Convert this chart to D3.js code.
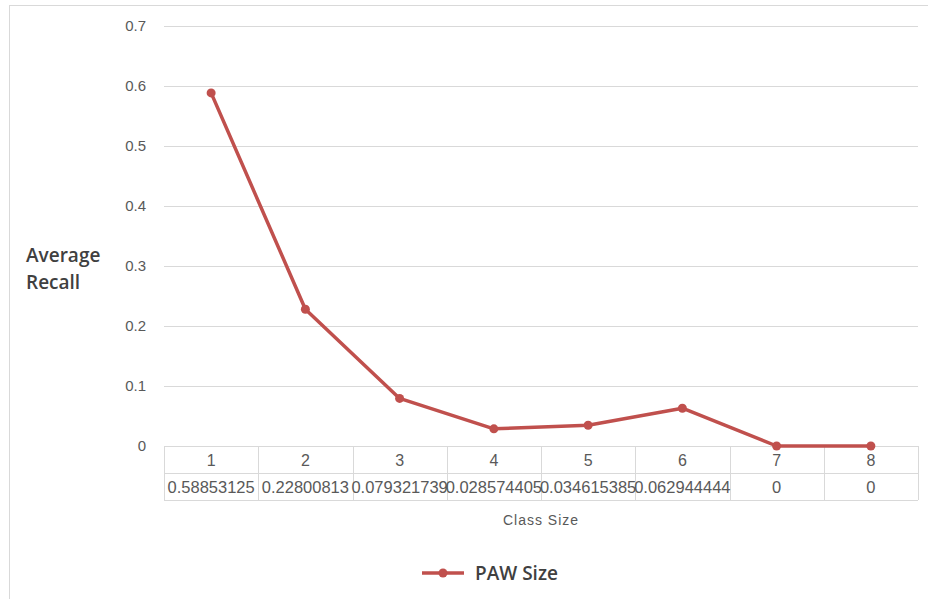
<!DOCTYPE html>
<html>
<head>
<meta charset="utf-8">
<script src="https://cdn.jsdelivr.net/npm/d3@7"></script>
<style>
  html, body { margin: 0; padding: 0; background: #fff; }
  svg { display: block; }
</style>
</head>
<body>
<svg id="chart" width="928" height="599"></svg>
<script>
// Average recall per class size (PAW Size series)
const categories = ["1", "2", "3", "4", "5", "6", "7", "8"];
const recallValues = [0.58853125, 0.22800813, 0.079321739, 0.028574405, 0.034615385, 0.062944444, 0, 0];
const valueLabels = ["0.58853125", "0.22800813", "0.079321739", "0.028574405", "0.034615385", "0.062944444", "0", "0"];
const yTicks = [0, 0.1, 0.2, 0.3, 0.4, 0.5, 0.6, 0.7];
const seriesName = "PAW Size";

const color = "#C0504D";
const gridColor = "#D9D9D9";
const textColor = "#595959";

const svg = d3.select("#chart");

// Outer chart frame (only top and left edges fall inside the view)
svg.append("rect")
  .attr("x", 9.5).attr("y", 5.5)
  .attr("width", 940).attr("height", 620)
  .attr("fill", "#fff")
  .attr("stroke", "#D9D9D9")
  .attr("stroke-width", 1);

const plot = { left: 164, right: 918, top: 26, bottom: 446 };

const x = d3.scaleBand()
  .domain(categories)
  .range([plot.left, plot.right])
  .padding(0);

const y = d3.scaleLinear()
  .domain([0, 0.7])
  .range([plot.bottom, plot.top]);

// Horizontal gridlines
svg.append("g")
  .selectAll("line")
  .data(yTicks.filter(d => d > 0))
  .join("line")
  .attr("x1", plot.left).attr("x2", plot.right)
  .attr("y1", d => Math.round(y(d)) + 0.5)
  .attr("y2", d => Math.round(y(d)) + 0.5)
  .attr("stroke", gridColor)
  .attr("stroke-width", 1);

// Y axis tick labels
svg.append("g")
  .selectAll("text")
  .data(yTicks)
  .join("text")
  .attr("x", 146)
  .attr("y", d => y(d))
  .attr("dy", "0.35em")
  .attr("text-anchor", "end")
  .attr("font-family", "'Liberation Sans', Arial, sans-serif")
  .attr("font-size", 15)
  .attr("fill", textColor)
  .text(d => d === 0 ? "0" : d3.format(".1f")(d));

// Y axis title
const yTitle = svg.append("text")
  .attr("font-family", "'Open Sans', sans-serif")
  .attr("font-size", 19)
  .attr("font-weight", 600)
  .attr("fill", "#404040");
yTitle.append("tspan").attr("x", 26).attr("y", 262).text("Average");
yTitle.append("tspan").attr("x", 26).attr("y", 289).text("Recall");

// Data table under the plot
const rowH = 27;
const tableTop = plot.bottom;
const tableG = svg.append("g");

// Horizontal table rules
[tableTop, tableTop + rowH, tableTop + 2 * rowH].forEach(yy => {
  tableG.append("line")
    .attr("x1", plot.left).attr("x2", plot.right)
    .attr("y1", yy + 0.5).attr("y2", yy + 0.5)
    .attr("stroke", gridColor);
});
// Vertical table rules
const colEdges = categories.map(c => x(c)).concat([plot.right]);
tableG.selectAll("line.v")
  .data(colEdges)
  .join("line")
  .attr("class", "v")
  .attr("x1", d => Math.round(d) + 0.5).attr("x2", d => Math.round(d) + 0.5)
  .attr("y1", tableTop).attr("y2", tableTop + 2 * rowH)
  .attr("stroke", gridColor);

// Category labels row
tableG.selectAll("text.cat")
  .data(categories)
  .join("text")
  .attr("class", "cat")
  .attr("x", d => x(d) + x.bandwidth() / 2)
  .attr("y", tableTop + rowH / 2)
  .attr("dy", "0.38em")
  .attr("text-anchor", "middle")
  .attr("font-family", "'Liberation Sans', Arial, sans-serif")
  .attr("font-size", 16)
  .attr("fill", textColor)
  .text(d => d);

// Values row
tableG.selectAll("text.val")
  .data(valueLabels)
  .join("text")
  .attr("class", "val")
  .attr("x", (d, i) => x(categories[i]) + x.bandwidth() / 2)
  .attr("y", tableTop + rowH * 1.5)
  .attr("dy", "0.38em")
  .attr("text-anchor", "middle")
  .attr("font-family", "'Liberation Sans', Arial, sans-serif")
  .attr("font-size", 16.5)
  .attr("fill", textColor)
  .text(d => d);

// X axis title
svg.append("text")
  .attr("x", 541)
  .attr("y", 520)
  .attr("dy", "0.35em")
  .attr("text-anchor", "middle")
  .attr("font-family", "'Liberation Sans', Arial, sans-serif")
  .attr("font-size", 14)
  .attr("letter-spacing", "1px")
  .attr("fill", textColor)
  .text("Class Size");

// Series line
const line = d3.line()
  .x((d, i) => x(categories[i]) + x.bandwidth() / 2)
  .y(d => y(d));

svg.append("path")
  .datum(recallValues)
  .attr("d", line)
  .attr("fill", "none")
  .attr("stroke", color)
  .attr("stroke-width", 3.5)
  .attr("stroke-linejoin", "round");

svg.append("g")
  .selectAll("circle")
  .data(recallValues)
  .join("circle")
  .attr("cx", (d, i) => x(categories[i]) + x.bandwidth() / 2)
  .attr("cy", d => y(d))
  .attr("r", 4.5)
  .attr("fill", color);

// Legend
const legend = svg.append("g").attr("transform", "translate(422,573)");
legend.append("line")
  .attr("x1", 0).attr("x2", 42)
  .attr("y1", 0).attr("y2", 0)
  .attr("stroke", color)
  .attr("stroke-width", 3.5);
legend.append("circle")
  .attr("cx", 21).attr("cy", 0).attr("r", 4.5)
  .attr("fill", color);
legend.append("text")
  .attr("x", 53).attr("y", 0)
  .attr("dy", "0.35em")
  .attr("font-family", "'Open Sans', sans-serif")
  .attr("font-size", 19)
  .attr("font-weight", 600)
  .attr("fill", "#404040")
  .text(seriesName);
</script>
</body>
</html>
